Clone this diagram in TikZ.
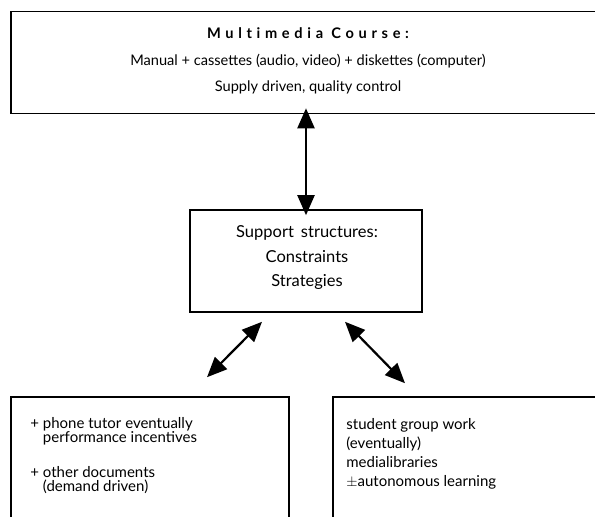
\documentclass[tikz,border=0pt]{standalone}
\usepackage{fontspec}
\setmainfont{Lato}
\usetikzlibrary{positioning, arrows.meta}

\begin{document}
\begin{tikzpicture}[
        x=1pt, y=-1pt,
        box/.style={
            rectangle,
            draw,
            line width=1.6pt,
            inner sep=0pt
        },
        label/.style={
            align=center,
            inner sep=0pt,
            font=\fontsize{14.6}{26.5}\selectfont
        },
        item/.style={
            align=left,
            inner sep=0pt,
            anchor=north west,
            font=\fontsize{15}{14.5}\selectfont
        },
        link/.style={
            {Triangle[length=20pt,width=17pt]}-{Triangle[length=20pt,width=17pt]},
            line width=2.2pt
        }
    ]
    \clip (0,0) rectangle (595,517);

    % Boxes
    \node[box, minimum width=592pt, minimum height=102pt] (course) at (307,62.5) {};
    \node[box, minimum width=232pt, minimum height=102pt] (support) at (306,261) {};
    \node[box, minimum width=278pt, minimum height=140pt] (tutor) at (150,467) {};
    \node[box, minimum width=280pt, minimum height=140pt] (group) at (473,467) {};

    % Texts
    \node[label] (course_txt) at (308,61) {{\bfseries\addfontfeatures{LetterSpace=32,Ligatures=NoCommon}Multimedia Course:}\\
        Manual + cassettes (audio, video) + diskettes (computer)\\
        Supply driven, quality control};
    \node[label, font=\fontsize{16.5}{24.5}\selectfont] (support_txt) at (307,258) {Support\, structures:\\Constraints\\Strategies};
    \node[item] (tutor_txt) at ([shift={(20,21)}]tutor.north west) {+ phone tutor eventually\\
        \phantom{+ }performance incentives\\[20pt]
        + other documents\\
        \phantom{+ }(demand driven)};
    \node[item, font=\fontsize{15}{19}\selectfont] (group_txt) at ([shift={(14,22)}]group.north west) {student group work\\
        (eventually)\\
        medialibraries\\
        $\pm$autonomous learning};

    % Arrows
    \draw[link] ([yshift=6pt]course.south -| support.north) -- ([yshift=-6pt]support.north);
    \draw[link] ([shift={(-44,9)}]support.south) -- ([shift={(57,-19)}]tutor.north);
    \draw[link] ([shift={(39,9)}]support.south) -- ([shift={(-68,-13)}]group.north);
\end{tikzpicture}
\end{document}
